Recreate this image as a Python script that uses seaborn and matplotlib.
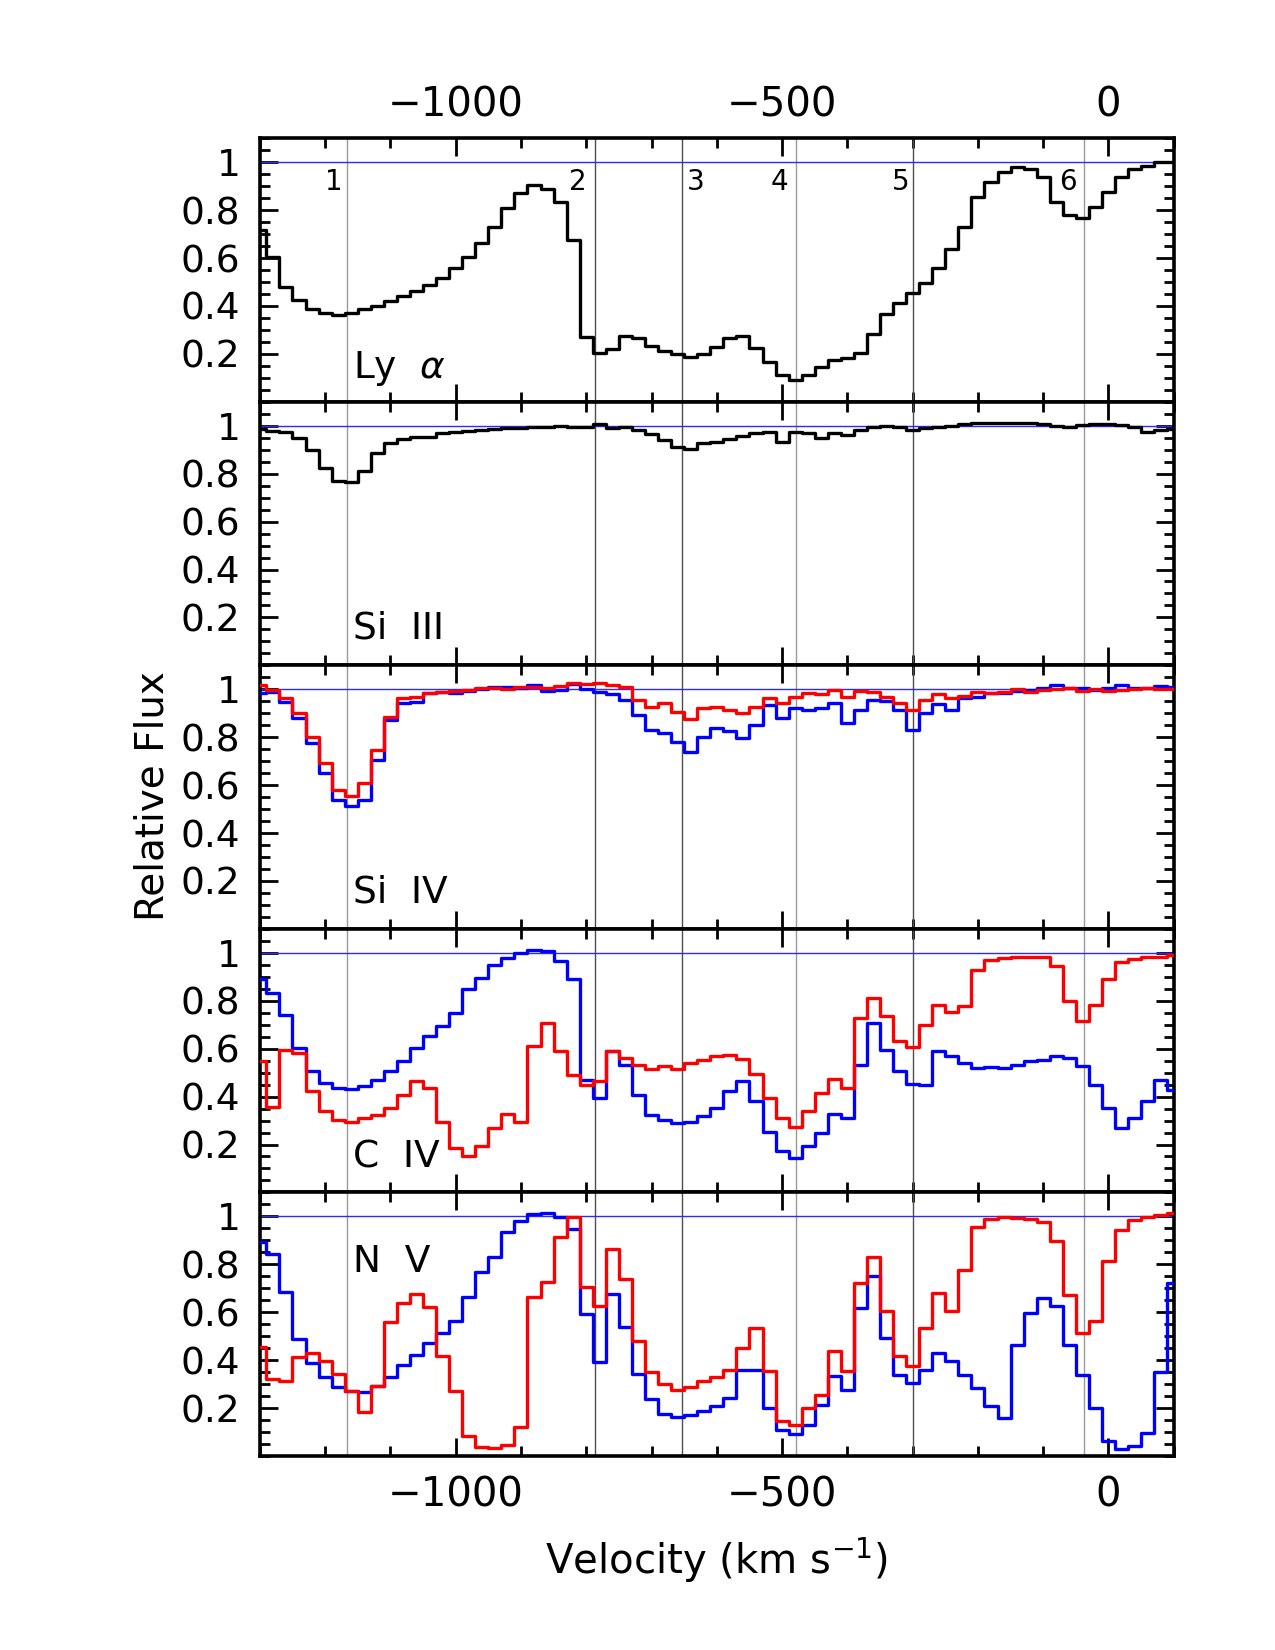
import numpy as np
import pandas as pd
import seaborn as sns
import matplotlib.pyplot as plt
from matplotlib.ticker import MultipleLocator, FixedLocator, FuncFormatter

# velocity bins (km/s), 20 km/s steps
velocity = [-1300, -1280, -1260, -1240, -1220, -1200, -1180, -1160, -1140, -1120,
            -1100, -1080, -1060, -1040, -1020, -1000, -980, -960, -940, -920,
            -900, -880, -860, -840, -820, -800, -780, -760, -740, -720,
            -700, -680, -660, -640, -620, -600, -580, -560, -540, -520,
            -500, -480, -460, -440, -420, -400, -380, -360, -340, -320,
            -300, -280, -260, -240, -220, -200, -180, -160, -140, -120,
            -100, -80, -60, -40, -20, 0, 20, 40, 60, 80, 100]

lya = [0.716, 0.604, 0.479, 0.427, 0.389, 0.371, 0.364, 0.370, 0.387, 0.401,
       0.420, 0.442, 0.461, 0.488, 0.518, 0.558, 0.604, 0.663, 0.730, 0.809,
       0.872, 0.903, 0.890, 0.835, 0.674, 0.269, 0.202, 0.220, 0.276, 0.267,
       0.233, 0.214, 0.198, 0.186, 0.200, 0.230, 0.267, 0.275, 0.225, 0.165,
       0.113, 0.092, 0.110, 0.147, 0.173, 0.183, 0.202, 0.283, 0.367, 0.412,
       0.455, 0.495, 0.558, 0.639, 0.730, 0.856, 0.918, 0.960, 0.981, 0.973,
       0.939, 0.835, 0.779, 0.769, 0.814, 0.876, 0.939, 0.970, 0.985, 0.999, 1.000]

si3 = [0.985, 0.980, 0.975, 0.948, 0.900, 0.823, 0.768, 0.764, 0.810, 0.886,
       0.927, 0.943, 0.952, 0.952, 0.971, 0.975, 0.979, 0.982, 0.988, 0.989,
       0.992, 0.996, 0.993, 0.999, 0.996, 0.996, 1.007, 0.990, 0.996, 0.982,
       0.966, 0.941, 0.913, 0.902, 0.927, 0.931, 0.943, 0.957, 0.971, 0.975,
       0.934, 0.975, 0.968, 0.950, 0.968, 0.961, 0.982, 0.996, 0.999, 0.993,
       0.982, 0.989, 0.996, 0.999, 1.007, 1.010, 1.010, 1.010, 1.012, 1.012,
       1.007, 0.999, 0.996, 1.003, 1.007, 1.007, 1.003, 0.996, 0.975, 0.982, 0.985]

si4_blue = [0.983, 0.990, 0.949, 0.879, 0.775, 0.650, 0.539, 0.514, 0.539, 0.706,
            0.872, 0.942, 0.949, 0.986, 0.990, 0.986, 0.994, 1.000, 1.008, 1.011,
            1.004, 1.017, 0.994, 0.997, 1.022, 1.000, 0.990, 0.981, 0.956, 0.893,
            0.831, 0.817, 0.782, 0.740, 0.803, 0.837, 0.824, 0.796, 0.851, 0.935,
            0.879, 0.921, 0.914, 0.921, 0.942, 0.858, 0.914, 0.956, 0.953, 0.914,
            0.831, 0.900, 0.939, 0.914, 0.963, 0.969, 0.983, 0.986, 0.994, 0.997,
            1.004, 1.018, 1.004, 1.004, 0.997, 1.004, 1.018, 1.004, 1.004, 1.014, 1.011]

si4_red = [1.018, 0.997, 0.963, 0.900, 0.803, 0.692, 0.581, 0.556, 0.608, 0.747,
           0.886, 0.963, 0.969, 0.983, 0.990, 0.994, 0.997, 1.004, 1.004, 1.000,
           1.011, 1.008, 1.004, 1.014, 1.025, 1.022, 1.028, 1.018, 1.011, 0.956,
           0.928, 0.942, 0.907, 0.875, 0.921, 0.928, 0.914, 0.903, 0.928, 0.963,
           0.942, 0.969, 0.986, 0.981, 0.997, 0.967, 0.994, 0.990, 0.969, 0.944,
           0.914, 0.956, 0.981, 0.963, 0.972, 0.990, 0.983, 0.990, 1.000, 0.990,
           0.997, 1.000, 1.004, 0.994, 1.000, 0.994, 0.997, 1.000, 1.004, 1.000, 1.000]

civ_blue = [0.889, 0.833, 0.742, 0.603, 0.505, 0.456, 0.436, 0.433, 0.443, 0.470,
            0.505, 0.550, 0.603, 0.652, 0.693, 0.749, 0.847, 0.895, 0.951, 0.979,
            1.000, 1.010, 1.007, 0.965, 0.889, 0.470, 0.394, 0.589, 0.533, 0.408,
            0.324, 0.303, 0.289, 0.296, 0.317, 0.352, 0.422, 0.466, 0.380, 0.254,
            0.171, 0.143, 0.192, 0.247, 0.327, 0.310, 0.533, 0.707, 0.596, 0.505,
            0.452, 0.449, 0.589, 0.568, 0.540, 0.519, 0.523, 0.519, 0.533, 0.547,
            0.554, 0.571, 0.561, 0.526, 0.449, 0.352, 0.268, 0.310, 0.380, 0.470, 0.429]

civ_red = [0.550, 0.355, 0.595, 0.581, 0.422, 0.338, 0.303, 0.293, 0.310, 0.324,
           0.352, 0.408, 0.463, 0.436, 0.296, 0.185, 0.150, 0.192, 0.268, 0.327,
           0.296, 0.610, 0.707, 0.589, 0.491, 0.449, 0.463, 0.592, 0.561, 0.533,
           0.516, 0.526, 0.516, 0.540, 0.554, 0.568, 0.575, 0.558, 0.494, 0.394,
           0.310, 0.275, 0.338, 0.415, 0.475, 0.436, 0.728, 0.812, 0.735, 0.631,
           0.606, 0.700, 0.784, 0.753, 0.777, 0.930, 0.969, 0.979, 0.982, 0.983,
           0.982, 0.944, 0.798, 0.714, 0.784, 0.889, 0.962, 0.975, 0.982, 0.982, 0.989]

nv_blue = [0.892, 0.843, 0.683, 0.488, 0.390, 0.328, 0.286, 0.270, 0.266, 0.291,
           0.331, 0.380, 0.421, 0.470, 0.513, 0.565, 0.662, 0.766, 0.829, 0.933,
           0.982, 1.010, 1.013, 0.996, 0.947, 0.592, 0.391, 0.676, 0.537, 0.342,
           0.238, 0.175, 0.164, 0.170, 0.186, 0.210, 0.242, 0.360, 0.360, 0.200,
           0.110, 0.092, 0.128, 0.214, 0.332, 0.277, 0.618, 0.750, 0.492, 0.339,
           0.305, 0.360, 0.430, 0.395, 0.339, 0.284, 0.207, 0.158, 0.465, 0.597,
           0.659, 0.624, 0.465, 0.339, 0.200, 0.061, 0.029, 0.040, 0.096, 0.350, 0.722]

nv_red = [0.453, 0.321, 0.314, 0.412, 0.430, 0.395, 0.342, 0.273, 0.185, 0.290,
          0.558, 0.637, 0.676, 0.620, 0.419, 0.273, 0.085, 0.036, 0.032, 0.046,
          0.120, 0.662, 0.725, 0.912, 0.996, 0.704, 0.627, 0.864, 0.739, 0.481,
          0.349, 0.300, 0.277, 0.286, 0.311, 0.328, 0.360, 0.451, 0.534, 0.353,
          0.145, 0.131, 0.200, 0.256, 0.437, 0.353, 0.722, 0.830, 0.604, 0.416,
          0.377, 0.534, 0.680, 0.604, 0.777, 0.954, 0.990, 0.996, 0.993, 0.990,
          0.975, 0.896, 0.673, 0.513, 0.562, 0.812, 0.944, 0.983, 0.996, 1.007, 1.013]

# component markers
comp_velocity = [-1166, -786, -654, -479, -299, -37]
comp_shade = ['0.6', '0.3', '0.3', '0.6', '0.3', '0.6']
comp_labels = ['1', '2', '3', '4', '5', '6']
comp_label_x = [-1186, -813, -632, -504, -318, -62]

panel_names = [r'Ly  $\alpha$', 'Si  III', 'Si  IV', 'C  IV', 'N  V']
panel_name_y = [0.10, 0.11, 0.11, 0.104, 0.766]
panel_series = [[(lya, 'black')],
                [(si3, 'black')],
                [(si4_blue, 'blue'), (si4_red, 'red')],
                [(civ_blue, 'blue'), (civ_red, 'red')],
                [(nv_blue, 'blue'), (nv_red, 'red')]]

sns.set_theme(style='ticks')
plt.rcParams['font.family'] = ['DejaVu Sans']
plt.rcParams['mathtext.fontset'] = 'dejavusans'
for key in ['text.color', 'axes.labelcolor', 'xtick.color', 'ytick.color', 'axes.edgecolor']:
    plt.rcParams[key] = 'black'

fig = plt.figure(figsize=(12.75, 16.5), dpi=100)
left, right = 0.2038, 0.9206
bottom, top = 0.1176, 0.9162
h = (top - bottom) / 5

for i, series in enumerate(panel_series):
    ax = fig.add_axes([left, top - (i + 1) * h, right - left, h])
    for v, c in zip(comp_velocity, comp_shade):
        ax.axvline(v, color=c, lw=1.0, zorder=1)
    ax.axhline(1.0, color='#2a2aff', lw=1.0, zorder=1)
    for vals, col in series:
        sns.lineplot(x=velocity, y=vals, ax=ax, color=col, lw=2.4,
                     drawstyle='steps-mid', estimator=None, legend=False, zorder=3)

    ax.set_xlim(-1300, 100)
    ax.set_ylim(0, 1.1)
    ax.xaxis.set_major_locator(MultipleLocator(500))
    ax.xaxis.set_minor_locator(MultipleLocator(100))
    ax.yaxis.set_major_locator(FixedLocator([0.2, 0.4, 0.6, 0.8, 1.0]))
    ax.yaxis.set_minor_locator(MultipleLocator(0.05))
    ax.yaxis.set_major_formatter(FuncFormatter(lambda y, _: '1' if abs(y - 1) < 1e-6 else f'{y:.1f}'))
    ax.tick_params(which='both', direction='in', top=True, right=True, width=2, color='black')
    ax.tick_params(which='major', length=13)
    ax.tick_params(which='minor', length=7)
    ax.tick_params(axis='y', labelsize=27, pad=14, labelcolor='black')
    ax.tick_params(axis='x', labelsize=29, pad=14, labelcolor='black',
                   labeltop=(i == 0), labelbottom=(i == 4))
    if i == 0:
        for t in ax.xaxis.get_major_ticks():
            t.set_pad(9)
    for sp in ax.spines.values():
        sp.set_linewidth(2.6)
        sp.set_color('black')
    ax.set_xlabel('')
    ax.set_ylabel('')
    ax.grid(False)

    ax.text(-1158, panel_name_y[i], panel_names[i], fontsize=27, color='black',
            ha='left', va='baseline', zorder=4)

    if i == 0:
        for lx, lab in zip(comp_label_x, comp_labels):
            ax.text(lx, 0.918, lab, fontsize=20, color='black',
                    ha='center', va='center', zorder=4)

fig.text(0.562, 0.0545, r'Velocity (km s$^{-1}$)', fontsize=29, color='black',
         ha='center', va='center')
fig.text(0.12, 0.5176, 'Relative Flux', fontsize=28, color='black', rotation=90,
         ha='center', va='center')

fig.savefig('out.png', dpi=100)
